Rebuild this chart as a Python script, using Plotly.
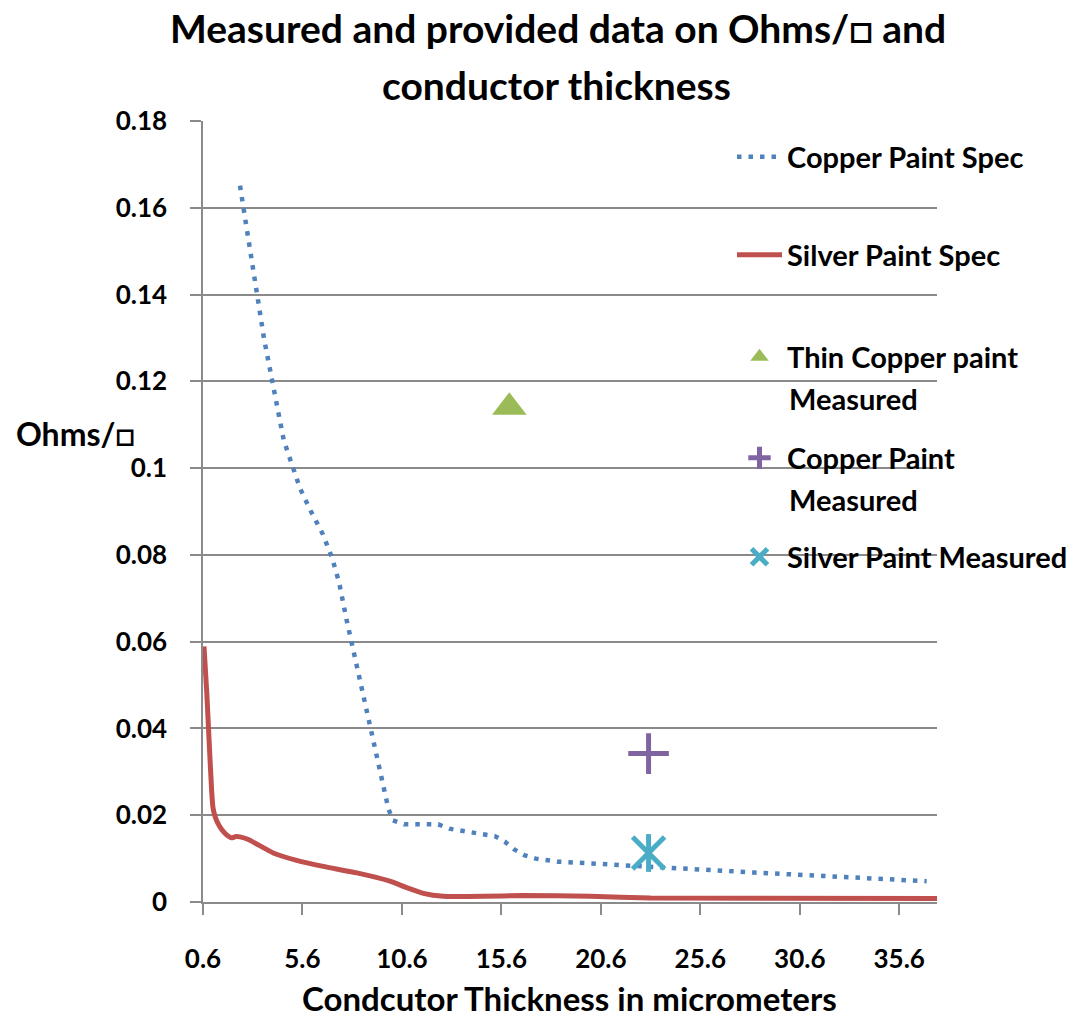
import plotly.graph_objects as go

# ---------------- data ----------------
copper_spec_x = [2.46, 3.67, 4.66, 5.48, 6.03, 6.62, 7.09, 7.44, 7.82, 8.38, 8.95, 9.48, 9.92,
                 10.15, 10.71, 12.43, 12.98, 14.69, 15.27, 15.77, 16.25, 16.75, 17.33, 18.46,
                 19.64, 21.93, 24.83, 28.3, 31.77, 34.67, 36.98]
copper_spec_y = [0.1651, 0.1298, 0.1064, 0.0953, 0.0900, 0.0848, 0.0793, 0.0737, 0.0650, 0.0533,
                 0.0418, 0.0302, 0.0215, 0.0188, 0.0179, 0.0179, 0.0169, 0.0156, 0.0152, 0.0139,
                 0.0121, 0.0108, 0.0100, 0.0093, 0.0090, 0.0082, 0.0076, 0.0068, 0.0060, 0.0053,
                 0.0048]

silver_spec_x = [0.65, 0.79, 0.92, 1.04, 1.1, 1.2, 1.35, 1.54, 1.76, 2.04, 2.26, 2.46, 2.88,
                 4.13, 5.31, 6.65, 8.33, 10.0, 10.84, 11.68, 12.68, 14.69, 16.7, 20.06, 23.1, 37.5]
silver_spec_y = [0.0589, 0.0482, 0.0359, 0.0252, 0.0218, 0.0198, 0.0181, 0.0167, 0.0156, 0.0148,
                 0.0151, 0.0150, 0.0144, 0.0113, 0.0096, 0.0082, 0.0067, 0.0048, 0.0033, 0.0020,
                 0.0013, 0.0013, 0.0015, 0.0013, 0.0009, 0.0008]

thin_copper_x = [16.0]
thin_copper_y = [0.114]
copper_meas_x = [23.0]
copper_meas_y = [0.0342]
silver_meas_x = [23.0]
silver_meas_y = [0.0113]

x_tickvals = [0.6, 5.6, 10.6, 15.6, 20.6, 25.6, 30.6, 35.6]
x_ticktext = ["0.6", "5.6", "10.6", "15.6", "20.6", "25.6", "30.6", "35.6"]
y_tickvals = [0, 0.02, 0.04, 0.06, 0.08, 0.10, 0.12, 0.14, 0.16, 0.18]
y_ticktext = ["0", "0.02", "0.04", "0.06", "0.08", "0.1", "0.12", "0.14", "0.16", "0.18"]

title_line1 = "Measured and provided data on Ohms/□ and"
title_line2 = "conductor thickness"
x_title = "Condcutor Thickness in micrometers"
y_title = "Ohms/□"

# ---------------- style ----------------
FONT = "Lato"
BLUE = "#4F81BD"
RED = "#C0504D"
GREEN = "#9BBB59"
PURPLE = "#8064A2"
TEAL = "#4BACC6"
GRID = "#8a8a8a"

W, H = 1075, 1022
ML, MR, MT, MB = 203, 138, 121, 120
PW, PH = W - ML - MR, H - MT - MB


def px_x(px):
    return (px - ML) / PW


def px_y(py):
    return (H - MB - py) / PH


leg_font = dict(family=FONT, size=29, color="black", weight="bold")

fig = go.Figure()

fig.add_trace(go.Scatter(
    x=copper_spec_x, y=copper_spec_y, mode="lines", name="Copper Paint Spec",
    line=dict(color=BLUE, width=4.5, dash="4.5px,7px"), legend="legend"))
fig.add_trace(go.Scatter(
    x=silver_spec_x, y=silver_spec_y, mode="lines", name="Silver Paint Spec",
    line=dict(color=RED, width=5, shape="spline", smoothing=0.4), legend="legend2"))
fig.add_trace(go.Scatter(
    x=thin_copper_x, y=thin_copper_y, mode="markers", name="Thin Copper paint",
    marker=dict(symbol="triangle-up", size=30, color=GREEN), legend="legend3"))
fig.add_trace(go.Scatter(
    x=copper_meas_x, y=copper_meas_y, mode="markers", name="Copper Paint",
    marker=dict(symbol="cross-thin", size=29, line=dict(color=PURPLE, width=5)),
    legend="legend4"))
fig.add_trace(go.Scatter(
    x=silver_meas_x, y=silver_meas_y, mode="markers", name="Silver Paint Measured",
    marker=dict(symbol="x-thin", size=32, line=dict(color=TEAL, width=5)),
    legend="legend5", legendgroup="agm"))
fig.add_trace(go.Scatter(
    x=silver_meas_x, y=silver_meas_y, mode="markers", name="Silver Paint Measured",
    marker=dict(symbol="line-ns", size=27, line=dict(color=TEAL, width=5)),
    legend="legend5", legendgroup="agm", showlegend=False))

leg_common = dict(xanchor="left", yanchor="middle", bgcolor="rgba(0,0,0,0)",
                  font=leg_font, borderwidth=0, itemwidth=45)
leg_x = px_x(732)
fig.update_layout(
    legend=dict(x=leg_x, y=px_y(157), **leg_common),
    legend2=dict(x=leg_x, y=px_y(255), **leg_common),
    legend3=dict(x=leg_x, y=px_y(357), **leg_common),
    legend4=dict(x=leg_x, y=px_y(458), **leg_common),
    legend5=dict(x=leg_x, y=px_y(557), **leg_common),
)

annos = [
    dict(text=title_line1, x=px_x(558), y=px_y(28), font=dict(family=FONT, size=39, color="black", weight="bold")),
    dict(text=title_line2, x=px_x(556), y=px_y(85), font=dict(family=FONT, size=39, color="black", weight="bold")),
    dict(text=x_title, x=px_x(569), y=px_y(998), font=dict(family=FONT, size=33, color="black", weight="bold")),
    dict(text=y_title, x=px_x(75), y=px_y(433), font=dict(family=FONT, size=32, color="black", weight="bold")),
]
for a in annos:
    fig.add_annotation(xref="paper", yref="paper", showarrow=False, xanchor="center",
                       yanchor="middle", **a)
for ty in (398, 500):
    fig.add_annotation(text="Measured", xref="paper", yref="paper", x=px_x(787), y=px_y(ty),
                       xanchor="left", yanchor="middle", showarrow=False, font=leg_font)

fig.update_xaxes(
    range=[0.6, 37.5], tickvals=x_tickvals, ticktext=x_ticktext,
    showgrid=False, zeroline=False, showline=True, linecolor=GRID, linewidth=1.5,
    ticks="outside", ticklen=11, tickwidth=1.5, tickcolor=GRID,
    tickfont=dict(family=FONT, size=26, color="black", weight="bold"),
    ticklabelstandoff=22,
)
fig.update_yaxes(
    range=[0, 0.18], tickvals=y_tickvals, ticktext=y_ticktext,
    showgrid=True, gridcolor=GRID, gridwidth=1.5, zeroline=False,
    showline=True, linecolor=GRID, linewidth=1.5,
    ticks="outside", ticklen=11, tickwidth=1.5, tickcolor=GRID,
    tickfont=dict(family=FONT, size=26, color="black", weight="bold"),
    ticklabelstandoff=18,
)

fig.update_layout(
    width=W, height=H, autosize=False,
    margin=dict(l=ML, r=MR, t=MT, b=MB, pad=0, autoexpand=False),
    paper_bgcolor="white", plot_bgcolor="white",
    showlegend=True,
)

fig.write_html("out.html")
